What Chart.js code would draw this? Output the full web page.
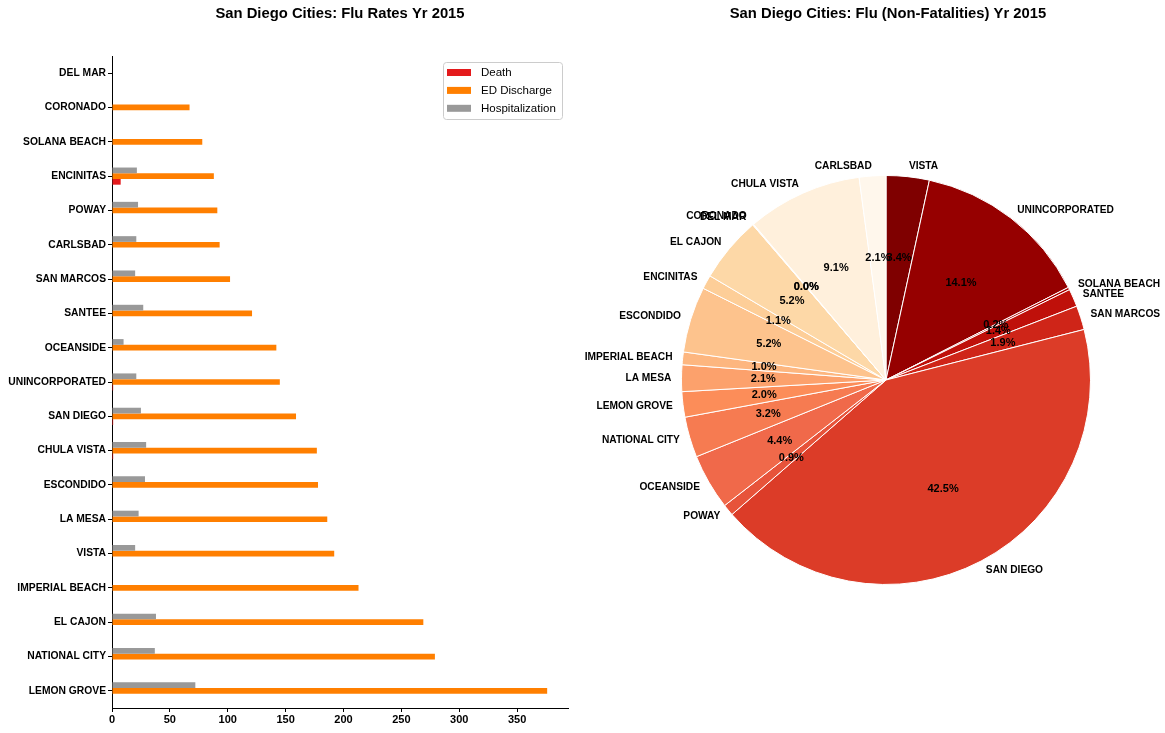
<!DOCTYPE html>
<html><head><meta charset="utf-8">
<script src="https://cdn.jsdelivr.net/npm/chart.js@4.4.0/dist/chart.umd.min.js"></script>
<style>
html,body{margin:0;padding:0;background:#fff;width:1165px;height:733px;overflow:hidden;}
#c1{position:absolute;left:0;top:0;}
#c2{position:absolute;left:580px;top:0;}
</style></head><body>
<canvas id="c1" width="580" height="733"></canvas>
<canvas id="c2" width="585" height="733"></canvas>
<script>
// ---------- data ----------
const cities = ['DEL MAR','CORONADO','SOLANA BEACH','ENCINITAS','POWAY','CARLSBAD','SAN MARCOS','SANTEE','OCEANSIDE','UNINCORPORATED','SAN DIEGO','CHULA VISTA','ESCONDIDO','LA MESA','VISTA','IMPERIAL BEACH','EL CAJON','NATIONAL CITY','LEMON GROVE'];
const deathRate = [0,0,0,7.5,0,0,0,0,0,1,1,1,0,0,0,0,0,0,0];
const edDischargeRate = [0,67,78,88,91,93,102,121,142,145,159,177,178,186,192,213,269,279,376];
const hospitalizationRate = [0,0,0,21.5,22.5,21,20,27,10,21,25,29.5,28.5,23,20,0,38,37,72];
const xTickValues = [0,50,100,150,200,250,300,350];
const xMax = 394;

const pieCities = ['CARLSBAD','CHULA VISTA','CORONADO','DEL MAR','EL CAJON','ENCINITAS','ESCONDIDO','IMPERIAL BEACH','LA MESA','LEMON GROVE','NATIONAL CITY','OCEANSIDE','POWAY','SAN DIEGO','SAN MARCOS','SANTEE','SOLANA BEACH','UNINCORPORATED','VISTA'];
const piePercent = [2.1,9.1,0.04,0.04,5.2,1.1,5.2,1.0,2.1,2.0,3.2,4.4,0.9,42.5,1.9,1.4,0.2,14.1,3.4];

const titleLeft = 'San Diego Cities: Flu Rates Yr 2015';
const titleRight = 'San Diego Cities: Flu (Non-Fatalities) Yr 2015';

// ---------- styles ----------
const FONT = '"Liberation Sans", Arial, sans-serif';
Chart.defaults.font.family = FONT;
Chart.defaults.color = '#000';
Chart.defaults.animation = false;

const orrd = [[255,247,236],[254,232,200],[253,212,158],[253,187,132],[252,141,89],[239,101,72],[215,48,31],[179,0,0],[127,0,0]];
function orrdAt(t){
  const p = t*(orrd.length-1); const i = Math.min(Math.floor(p), orrd.length-2); const f = p-i;
  const c = orrd[i].map((v,k)=>Math.round(v+(orrd[i+1][k]-v)*f));
  return `rgb(${c[0]},${c[1]},${c[2]})`;
}

const titlePlugin = {
  id:'ctitle',
  afterDraw(chart, args, opts){
    const ctx = chart.ctx, a = chart.chartArea;
    ctx.save();
    ctx.font = 'bold 14.8px ' + FONT;
    ctx.fillStyle = '#000'; ctx.textAlign = 'center'; ctx.textBaseline = 'middle';
    ctx.fillText(opts.text, (a.left+a.right)/2 + (opts.dx||0), 14);
    ctx.restore();
  }
};

const boxLegend = {
  id:'boxLegend',
  afterDraw(chart){
    const ctx = chart.ctx, a = chart.chartArea;
    const items = chart.data.datasets.slice().reverse();
    const w = 119, h = 57;
    const x0 = a.right - 6 - w, y0 = a.top + 6;
    ctx.save();
    ctx.beginPath();
    if (ctx.roundRect) ctx.roundRect(x0+0.5, y0+0.5, w, h, 3); else ctx.rect(x0+0.5,y0+0.5,w,h);
    ctx.fillStyle = 'rgba(255,255,255,0.8)'; ctx.fill();
    ctx.strokeStyle = '#cccccc'; ctx.lineWidth = 1; ctx.stroke();
    ctx.font = '11.5px ' + FONT; ctx.textBaseline = 'middle'; ctx.textAlign = 'left';
    items.forEach((d,i)=>{
      const cy = y0 + 10.5 + i*17.9;
      ctx.fillStyle = d.backgroundColor;
      ctx.fillRect(x0+4, cy-3.5, 24, 7);
      ctx.fillStyle = '#000';
      ctx.fillText(d.label, x0+38, cy+0.5);
    });
    ctx.restore();
  }
};

// ---------- left: horizontal bars ----------
new Chart(document.getElementById('c1'), {
  type:'bar',
  data:{
    labels: cities,
    datasets:[
      {label:'Hospitalization', data: hospitalizationRate, backgroundColor:'#999999'},
      {label:'ED Discharge', data: edDischargeRate, backgroundColor:'#ff7f00'},
      {label:'Death', data: deathRate, backgroundColor:'#e41a1c'}
    ]
  },
  options:{
    indexAxis:'y',
    responsive:false,
    devicePixelRatio:1,
    layout:{padding:{left:0, right:12, top:56, bottom:0}},
    datasets:{bar:{categoryPercentage:0.5, barPercentage:1.0, borderWidth:0}},
    plugins:{legend:{display:false}, tooltip:{enabled:false}, ctitle:{text:titleLeft}},
    scales:{
      y:{
        afterFit(s){ s.width = 112; },
        grid:{offset:false, drawOnChartArea:false, drawTicks:true, tickLength:4, color:'#000', lineWidth:1},
        border:{display:true, color:'#000', width:1},
        ticks:{font:{weight:'bold', size:10.3}, color:'#000', padding:2}
      },
      x:{
        min:0, max:xMax,
        afterFit(s){ s.height = 25; },
        afterBuildTicks(s){ s.ticks = xTickValues.map(v=>({value:v})); },
        grid:{drawOnChartArea:false, drawTicks:true, tickLength:4, color:'#000', lineWidth:1},
        border:{display:true, color:'#000', width:1},
        ticks:{font:{weight:'bold', size:11}, color:'#000', padding:1, maxRotation:0}
      }
    }
  },
  plugins:[titlePlugin, boxLegend]
});

// ---------- right: pie ----------
const pieLabels = pieCities.slice().reverse();
const pieValues = piePercent.slice().reverse();
const pieColors = pieCities.map((c,i)=>orrdAt(i/(pieCities.length-1))).reverse();

const pieLabelPlugin = {
  id:'pieLabels',
  afterDatasetsDraw(chart){
    const ctx = chart.ctx, meta = chart.getDatasetMeta(0), ds = chart.data.datasets[0];
    ctx.save();
    ctx.fillStyle = '#000'; ctx.textBaseline = 'middle';
    for (let k = meta.data.length-1; k >= 0; k--){
      const p = meta.data[k].getProps(['x','y','startAngle','endAngle','outerRadius'], true);
      const mid = (p.startAngle+p.endAngle)/2, c = Math.cos(mid), s = Math.sin(mid);
      ctx.font = 'bold 10.2px ' + FONT;
      ctx.textAlign = c > 0 ? 'left' : 'right';
      ctx.fillText(chart.data.labels[k], p.x + c*p.outerRadius*1.05, p.y + s*p.outerRadius*1.05);
      ctx.font = 'bold 11px ' + FONT;
      ctx.textAlign = 'center';
      ctx.fillText(ds.data[k].toFixed(1)+'%', p.x + c*p.outerRadius*0.6, p.y + s*p.outerRadius*0.6);
    }
    ctx.restore();
  }
};

new Chart(document.getElementById('c2'), {
  type:'pie',
  data:{labels: pieLabels, datasets:[{data: pieValues, backgroundColor: pieColors, borderColor:'#ffffff', borderWidth:1}]},
  options:{
    responsive:false,
    devicePixelRatio:1,
    layout:{padding:{left:101, right:74, top:175, bottom:148}},
    plugins:{legend:{display:false}, tooltip:{enabled:false}, ctitle:{text:titleRight, dx:2}}
  },
  plugins:[titlePlugin, pieLabelPlugin]
});
</script>
</body></html>
